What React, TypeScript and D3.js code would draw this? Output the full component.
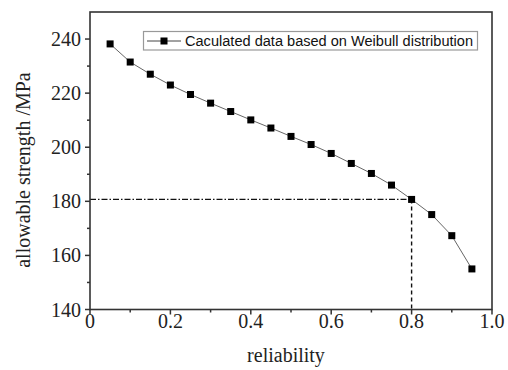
import React from "react";
import * as d3 from "d3";

const reliability = [0.05, 0.1, 0.15, 0.2, 0.25, 0.3, 0.35, 0.4, 0.45, 0.5, 0.55, 0.6, 0.65, 0.7, 0.75, 0.8, 0.85, 0.9, 0.95];
const strength = [238.2, 231.5, 227.0, 223.0, 219.5, 216.3, 213.2, 210.1, 207.1, 204.0, 201.0, 197.7, 194.0, 190.3, 186.0, 180.7, 175.1, 167.3, 155.0];
const xTicks = [0, 0.2, 0.4, 0.6, 0.8, 1.0];
const xTickLabels = ["0", "0.2", "0.4", "0.6", "0.8", "1.0"];
const yTicks = [140, 160, 180, 200, 220, 240];
const xMinor = [0.1, 0.3, 0.5, 0.7, 0.9];
const yMinor = [150, 170, 190, 210, 230];
const refPoint = { x: 0.8, y: 180.7 };
const legendLabel = "Caculated data based on Weibull distribution";
const xTitle = "reliability";
const yTitle = "allowable strength /MPa";

export default function App() {
  const W = 508, H = 370;
  const x = d3.scaleLinear().domain([0, 1]).range([90, 492]);
  const y = d3.scaleLinear().domain([140, 250]).range([309.5, 12]);
  const [x0, x1] = x.range();
  const [y0, y1] = y.range();
  const line = d3.line<number>().x((_, i) => x(reliability[i])).y((d) => y(d));
  const serif = "'Liberation Serif', 'DejaVu Serif', serif";
  const sans = "'Liberation Sans', Arial, sans-serif";
  const ms = 7;
  return (
    <svg width={W} height={H} style={{ position: "absolute", left: 0, top: 0, background: "#fff" }}>
      <rect x={0} y={0} width={W} height={H} fill="#fff" />
      {/* reference lines */}
      <line x1={x0} x2={x(refPoint.x)} y1={y(refPoint.y)} y2={y(refPoint.y)} stroke="#111" strokeWidth={1.2} strokeDasharray="6,2,1.5,2" />
      <line x1={x(refPoint.x)} x2={x(refPoint.x)} y1={y(refPoint.y)} y2={y0} stroke="#111" strokeWidth={1.4} strokeDasharray="4,3" />
      {/* data line */}
      <path d={line(strength) || ""} fill="none" stroke="#666" strokeWidth={1} />
      {strength.map((v, i) => (
        <rect key={i} x={x(reliability[i]) - ms / 2} y={y(v) - ms / 2} width={ms} height={ms} fill="#000" />
      ))}
      {/* frame */}
      <rect x={x0} y={y1} width={x1 - x0} height={y0 - y1} fill="none" stroke="#333" strokeWidth={1.6} />
      {/* x ticks */}
      {xTicks.map((t, i) => (
        <g key={"xt" + i}>
          <line x1={x(t)} x2={x(t)} y1={y0} y2={y0 + 5} stroke="#333" strokeWidth={1.5} />
          <text x={x(t)} y={328} textAnchor="middle" fontFamily={serif} fontSize={20} fill="#222">{xTickLabels[i]}</text>
        </g>
      ))}
      {xMinor.map((t, i) => (
        <line key={"xm" + i} x1={x(t)} x2={x(t)} y1={y0} y2={y0 + 3} stroke="#333" strokeWidth={1.5} />
      ))}
      {yTicks.map((t, i) => (
        <g key={"yt" + i}>
          <line x1={x0 - 5} x2={x0} y1={y(t)} y2={y(t)} stroke="#333" strokeWidth={1.5} />
          <text x={81} y={y(t)} dy="0.35em" textAnchor="end" fontFamily={serif} fontSize={20} fill="#222">{t}</text>
        </g>
      ))}
      {yMinor.map((t, i) => (
        <line key={"ym" + i} x1={x0 - 3} x2={x0} y1={y(t)} y2={y(t)} stroke="#333" strokeWidth={1.5} />
      ))}
      {/* titles */}
      <text x={286} y={362} textAnchor="middle" fontFamily={serif} fontSize={20} fill="#222">{xTitle}</text>
      <text transform={`translate(30,${170}) rotate(-90)`} textAnchor="middle" fontFamily={serif} fontSize={20} fill="#222">{yTitle}</text>
      {/* legend */}
      <rect x={143.5} y={31.5} width={334} height={18.5} fill="#fff" stroke="#999" strokeWidth={1.2} />
      <line x1={147} x2={181} y1={41} y2={41} stroke="#444" strokeWidth={1} />
      <rect x={164 - ms / 2} y={41 - ms / 2} width={ms} height={ms} fill="#000" />
      <text x={185} y={45.5} fontFamily={sans} fontSize={14} textLength={288} lengthAdjust="spacingAndGlyphs" fill="#111">{legendLabel}</text>
    </svg>
  );
}
